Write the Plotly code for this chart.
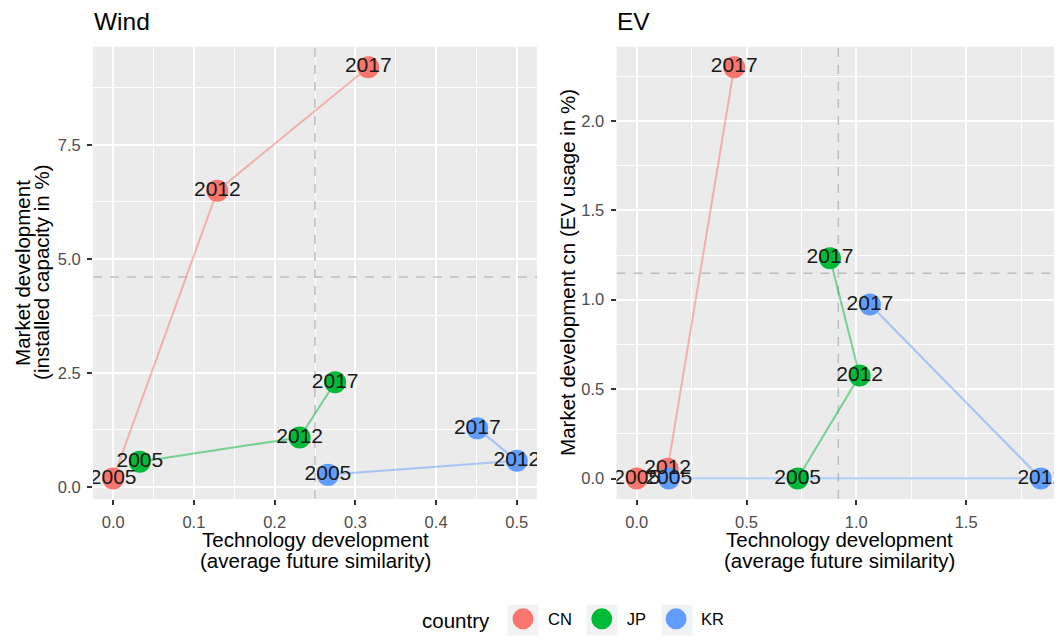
import plotly.graph_objects as go

# ---------------- data ----------------
countries = ["CN", "JP", "KR"]
years = ["2005", "2012", "2017"]

wind_cn_x = [0.000, 0.129, 0.316]
wind_cn_y = [0.18, 6.49, 9.20]
wind_jp_x = [0.033, 0.231, 0.275]
wind_jp_y = [0.55, 1.08, 2.29]
wind_kr_x = [0.266, 0.500, 0.451]
wind_kr_y = [0.26, 0.57, 1.28]

ev_cn_x = [0.000, 0.141, 0.444]
ev_cn_y = [0.000, 0.055, 2.300]
ev_jp_x = [0.733, 1.015, 0.880]
ev_jp_y = [0.000, 0.576, 1.232]
ev_kr_x = [0.146, 1.840, 1.062]
ev_kr_y = [0.000, 0.000, 0.973]

wind_vline = 0.25
wind_hline = 4.6
ev_vline = 0.918
ev_hline = 1.148

wind_x_ticks = [0.0, 0.1, 0.2, 0.3, 0.4, 0.5]
wind_y_ticks = [0.0, 2.5, 5.0, 7.5]
ev_x_ticks = [0.0, 0.5, 1.0, 1.5]
ev_y_ticks = [0.0, 0.5, 1.0, 1.5, 2.0]

# ---------------- style ----------------
SCREEN_W, SCREEN_H = 1062, 639
OFF = 8  # default page margin of the html body
W, H = SCREEN_W - OFF, SCREEN_H - OFF
FONT = "Liberation Sans, Arial, Helvetica, sans-serif"
colors = {"CN": "#F8766D", "JP": "#00BA38", "KR": "#619CFF"}
line_colors = {"CN": "rgba(248,118,109,0.5)", "JP": "rgba(0,186,56,0.5)",
               "KR": "rgba(97,156,255,0.5)"}


def px(x):
    return (x - OFF) / W


def py(y):
    return 1 - (y - OFF) / H


wind = {"CN": (wind_cn_x, wind_cn_y), "JP": (wind_jp_x, wind_jp_y),
        "KR": (wind_kr_x, wind_kr_y)}
ev = {"CN": (ev_cn_x, ev_cn_y), "JP": (ev_jp_x, ev_jp_y),
      "KR": (ev_kr_x, ev_kr_y)}


def expand(vals):
    lo, hi = min(vals), max(vals)
    d = (hi - lo) * 0.05
    return [lo - d, hi + d]


wind_xr = expand(wind_cn_x + wind_jp_x + wind_kr_x)
wind_yr = expand(wind_cn_y + wind_jp_y + wind_kr_y)
ev_xr = expand(ev_cn_x + ev_jp_x + ev_kr_x)
ev_yr = expand(ev_cn_y + ev_jp_y + ev_kr_y)

fig = go.Figure()

# reference dashed lines
dash = dict(color="#BEBEBE", width=1.5, dash="9px,8px")
for (vx, hy, xr, yr, xa, ya) in ((wind_vline, wind_hline, wind_xr, wind_yr, "x", "y"),
                                 (ev_vline, ev_hline, ev_xr, ev_yr, "x2", "y2")):
    fig.add_trace(go.Scatter(x=[vx, vx], y=yr, mode="lines", line=dash, xaxis=xa,
                             yaxis=ya, showlegend=False, hoverinfo="skip"))
    fig.add_trace(go.Scatter(x=xr, y=[hy, hy], mode="lines", line=dash, xaxis=xa,
                             yaxis=ya, showlegend=False, hoverinfo="skip"))

panels = ((wind, ("x", "y")), (ev, ("x2", "y2")))
for panel, (xa, ya) in panels:
    for c in countries:
        xs, ys = panel[c]
        fig.add_trace(go.Scatter(x=xs, y=ys, mode="lines", xaxis=xa, yaxis=ya,
                                 line=dict(color=line_colors[c], width=2),
                                 showlegend=False, hoverinfo="skip"))
for i, (panel, (xa, ya)) in enumerate(panels):
    for c in countries:
        xs, ys = panel[c]
        fig.add_trace(go.Scatter(x=xs, y=ys, mode="markers", xaxis=xa, yaxis=ya,
                                 marker=dict(color=colors[c], size=17,
                                             line=dict(color=colors[c], width=5)),
                                 name=c, legendgroup=c, showlegend=(i == 0)))
for panel, (xa, ya) in panels:
    for c in countries:
        xs, ys = panel[c]
        fig.add_trace(go.Scatter(x=xs, y=ys, mode="text", text=years,
                                 textposition="middle center", xaxis=xa, yaxis=ya,
                                 textfont=dict(family=FONT, size=21, color="#1A1A1A"),
                                 showlegend=False, hoverinfo="skip"))

tickfont = dict(family=FONT, size=16.5, color="#4D4D4D")
common = dict(showgrid=True, gridcolor="white", gridwidth=1.6, zeroline=False,
              showline=False, ticks="outside", ticklen=5, tickwidth=1.5,
              tickcolor="#333333", tickfont=tickfont, tickformat=".1f",
              ticklabelstandoff=3)


def minor(step):
    return dict(dtick=step, tick0=0, showgrid=True, gridcolor="white", gridwidth=0.8)


y_dom = [py(503), py(47)]
fig.update_layout(
    xaxis=dict(domain=[px(93), px(537)], range=wind_xr, anchor="y",
               tickvals=wind_x_ticks, minor=minor(0.05), **common),
    yaxis=dict(domain=y_dom, range=wind_yr, anchor="x", tickvals=wind_y_ticks,
               minor=minor(1.25), **common),
    xaxis2=dict(domain=[px(616.5), px(1061)], range=ev_xr, anchor="y2",
                tickvals=ev_x_ticks, minor=minor(0.25), **common),
    yaxis2=dict(domain=y_dom, range=ev_yr, anchor="x2", tickvals=ev_y_ticks,
                minor=minor(0.25), **common),
)

title_font = dict(family=FONT, size=24.5, color="black")
axis_font = dict(family=FONT, size=20.5, color="black")


def ann(text, x, y, font, xanchor="center", angle=0):
    fig.add_annotation(text=text, x=px(x), y=py(y), xref="paper", yref="paper",
                       showarrow=False, xanchor=xanchor, yanchor="middle",
                       textangle=angle, font=font)


ann("Wind", 92, 22, title_font, xanchor="left")
ann("EV", 615, 22, title_font, xanchor="left")
ann("Technology development", 315, 544, axis_font)
ann("(average future similarity)", 315, 565, axis_font)
ann("Technology development", 839, 544, axis_font)
ann("(average future similarity)", 839, 565, axis_font)
ann("Market development", 23, 275, axis_font, angle=-90)
ann("(installed capacity in %)", 42, 275, axis_font, angle=-90)
ann("Market development cn (EV usage in %)", 568, 275, axis_font, angle=-90)

# light-grey legend key backgrounds (ggplot style)
KEY = 31
for cx in (523, 602, 677):
    fig.add_shape(type="rect", xref="paper", yref="paper",
                  x0=px(cx - KEY / 2), x1=px(cx + KEY / 2),
                  y0=py(625 + KEY / 2), y1=py(625 - KEY / 2),
                  fillcolor="#F2F2F2", line=dict(width=0), layer="below")

fig.update_layout(
    width=W, height=H, margin=dict(l=0, r=0, t=0, b=0),
    paper_bgcolor="white", plot_bgcolor="#EBEBEB",
    font=dict(family=FONT),
    showlegend=True,
    legend=dict(orientation="h", x=px(420), xanchor="left", y=py(625),
                yanchor="middle", itemwidth=40,
                title=dict(text="country", side="left",
                           font=dict(family=FONT, size=20.5, color="black")),
                font=dict(family=FONT, size=16.5, color="black"),
                bgcolor="rgba(0,0,0,0)"),
)

fig.write_html("out.html")
